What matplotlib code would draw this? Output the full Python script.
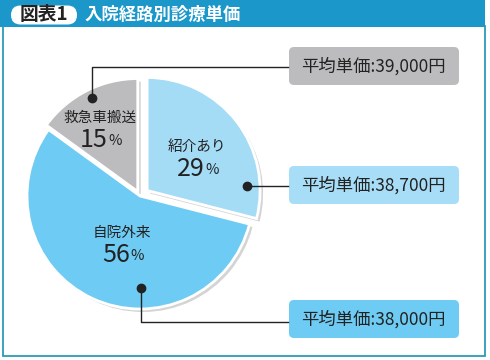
import matplotlib
matplotlib.use('Agg')
import matplotlib.pyplot as plt
from matplotlib.patches import Rectangle, FancyBboxPatch

plt.rcParams['font.family'] = ['Noto Sans CJK JP', 'DejaVu Sans']

# data
labels = ['紹介あり', '自院外来', '救急車搬送']
shares = [29, 56, 15]
prices = [38700, 38000, 39000]
colors = ['#a4dcf6', '#6ecbf3', '#bcbcbe']
box_colors = ['#a8ddf7', '#6ecbf3', '#bcbcbe']
explode_px = [9, 0, 5]   # offset of each slice, in pixels

W, H = 490, 360
fig = plt.figure(figsize=(W / 100, H / 100), dpi=100)
ax = fig.add_axes([0, 0, 1, 1])
ax.axis('off')

def Y(y):
    # image pixel row -> data y
    return H - y

# frame and header
ax.add_patch(Rectangle((3, Y(356)), 482, 330, fill=False, ec='#2b9bb9', lw=1.3))
ax.add_patch(Rectangle((0, Y(27)), 485, 27, fc='#1b97c9', ec='none'))
ax.add_patch(FancyBboxPatch((11, Y(24.5)), 66, 19, boxstyle='round,pad=0,rounding_size=9.5',
                            fc='white', ec='none'))
ax.text(44, Y(14.5), '図表1', ha='center', va='center', fontsize=13.5,
        fontweight='bold', color='#222222')
ax.text(85, Y(14.5), '入院経路別診療単価', ha='left', va='center', fontsize=12.5,
        fontweight='bold', color='white')

# pie with soft shadow (explode is in data units here, i.e. pixels)
cx, cy, r = 140, Y(196), 113
ax.pie(shares, center=(cx + 3, cy - 3), radius=r, startangle=90, counterclock=False,
       explode=explode_px, colors=['#d4d4d4'] * 3, wedgeprops=dict(ec='none'))
ax.pie(shares, center=(cx, cy), radius=r, startangle=90, counterclock=False,
       explode=explode_px, colors=colors, wedgeprops=dict(ec='white', lw=2))
ax.set_xlim(0, W)
ax.set_ylim(0, H)
ax.set_aspect('equal')

# slice labels (name, percent position)
label_pos = [(197, 147), (122, 233), (100, 118)]
for name, pct, (x, y) in zip(labels, shares, label_pos):
    ax.text(x, Y(y), name, ha='center', va='center', fontsize=10.5, color='#222222')
    ax.text(x + 8, Y(y + 22), str(pct), ha='right', va='center', fontsize=18, color='#222222')
    ax.text(x + 8, Y(y + 23), '%', ha='left', va='center', fontsize=10.5, color='#222222')

# leader lines and price boxes
dots = [(247, 186), (141, 288), (92, 98)]
paths = [[(247, 186), (288, 186)],
         [(141, 288), (141, 322), (288, 322)],
         [(92, 98), (92, 67), (288, 67)]]
box_y = [185, 319, 66]
for (dx, dy), path, by, price, bc in zip(dots, paths, box_y, prices, box_colors):
    ax.plot([p[0] for p in path], [Y(p[1]) for p in path], color='#222222', lw=1)
    ax.plot(dx, Y(dy), 'o', color='#222222', ms=6)
    ax.add_patch(FancyBboxPatch((289, Y(by + 19)), 170, 38,
                                boxstyle='round,pad=0,rounding_size=5', fc=bc, ec='none'))
    ax.text(373, Y(by), f'平均単価:{price:,}円', ha='center', va='center',
            fontsize=12.5, color='#222222')

fig.savefig('out.png', dpi=100)
